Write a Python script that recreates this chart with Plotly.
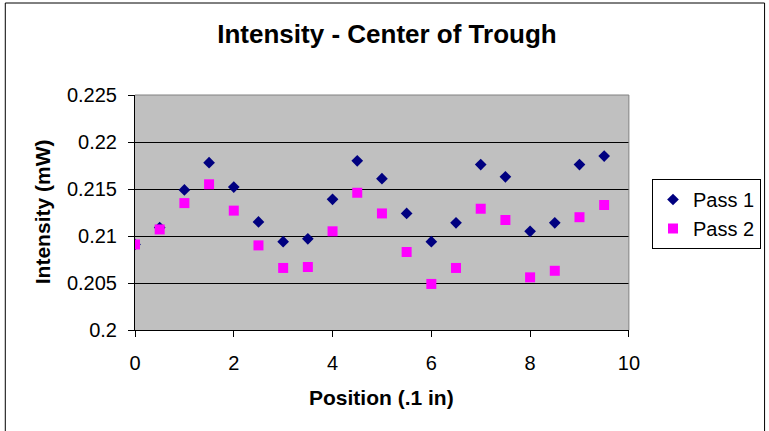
import plotly.graph_objects as go

position = [0, 0.5, 1, 1.5, 2, 2.5, 3, 3.5, 4, 4.5, 5, 5.5, 6, 6.5, 7, 7.5, 8, 8.5, 9, 9.5]
pass1 = [0.2091, 0.2109, 0.2149, 0.2178, 0.2152, 0.2115, 0.2094, 0.2097, 0.2139, 0.2180,
         0.2161, 0.2124, 0.2094, 0.2114, 0.2176, 0.2163, 0.2105, 0.2114, 0.2176, 0.2185]
pass2 = [0.2091, 0.2107, 0.2135, 0.2155, 0.2127, 0.2090, 0.2066, 0.2067, 0.2105, 0.2146,
         0.2124, 0.2083, 0.2049, 0.2066, 0.2129, 0.2117, 0.2056, 0.2063, 0.2120, 0.2133]
y_ticks = [0.2, 0.205, 0.21, 0.215, 0.22, 0.225]
y_labels = ["0.2", "0.205", "0.21", "0.215", "0.22", "0.225"]
x_ticks = [0, 2, 4, 6, 8, 10]

W, H = 769, 431
L, R, T, B = 135, 630, 95, 330
pw, ph = R - L, B - T

def px_x(x):
    return (x - L) / pw

def px_y(y):
    return (B - y) / ph

font = "Liberation Sans, Arial, sans-serif"

fig = go.Figure()
fig.add_trace(go.Scatter(x=position, y=pass1, mode="markers", name="Pass 1",
                         marker=dict(symbol="diamond", size=9, color="#000080")))
fig.add_trace(go.Scatter(x=position, y=pass2, mode="markers", name="Pass 2",
                         marker=dict(symbol="square", size=10, color="#FF00FF")))

fig.update_layout(
    width=W, height=H,
    margin=dict(l=L, r=W - R, t=T, b=H - B, pad=0),
    paper_bgcolor="white", plot_bgcolor="#C0C0C0",
    font=dict(family=font, size=20, color="black"),
    title=dict(text="<b>Intensity - Center of Trough</b>", x=387 / W, xanchor="center",
               y=1 - 34 / H, yanchor="middle", yref="container",
               font=dict(size=26, family=font, color="black")),
    showlegend=True,
    legend=dict(x=652 / W, y=1 - 179 / H, xref="container", yref="container",
                xanchor="left", yanchor="top",
                bordercolor="black", borderwidth=1, bgcolor="white",
                font=dict(size=20, family=font, color="black"),
                itemwidth=30),
    xaxis=dict(range=[0, 10], tickvals=x_ticks, showgrid=False, zeroline=False,
               showline=True, linecolor="black", linewidth=1,
               ticks="outside", ticklen=6, tickcolor="black", tickwidth=1,
               ticklabelstandoff=9,
               tickfont=dict(size=20, family=font, color="black")),
    yaxis=dict(range=[0.2, 0.225], tickvals=y_ticks, ticktext=y_labels,
               showgrid=True, gridcolor="black", gridwidth=1, zeroline=False,
               showline=True, linecolor="black", linewidth=1,
               ticks="outside", ticklen=6, tickcolor="black", tickwidth=1,
               ticklabelstandoff=7,
               tickfont=dict(size=20, family=font, color="black")),
    annotations=[
        dict(text="<b>Position (.1 in)</b>", x=px_x(382), y=px_y(397), xref="paper", yref="paper",
             xanchor="center", yanchor="middle", showarrow=False,
             font=dict(size=21, family=font, color="black")),
        dict(text="<b>Intensity (mW)</b>", x=px_x(42), y=px_y(212), xref="paper", yref="paper",
             xanchor="center", yanchor="middle", showarrow=False, textangle=-90,
             font=dict(size=21, family=font, color="black")),
    ],
    shapes=[
        dict(type="line", xref="paper", yref="paper", x0=0, x1=1, y0=1, y1=1,
             line=dict(color="#808080", width=1)),
        dict(type="line", xref="paper", yref="paper", x0=1, x1=1, y0=0, y1=1,
             line=dict(color="#808080", width=1)),
        dict(type="rect", xref="paper", yref="paper", x0=px_x(5), x1=px_x(766),
             y0=px_y(440), y1=px_y(3), line=dict(color="black", width=1),
             fillcolor="rgba(0,0,0,0)", layer="below"),
    ],
)

fig.write_html("out.html")
